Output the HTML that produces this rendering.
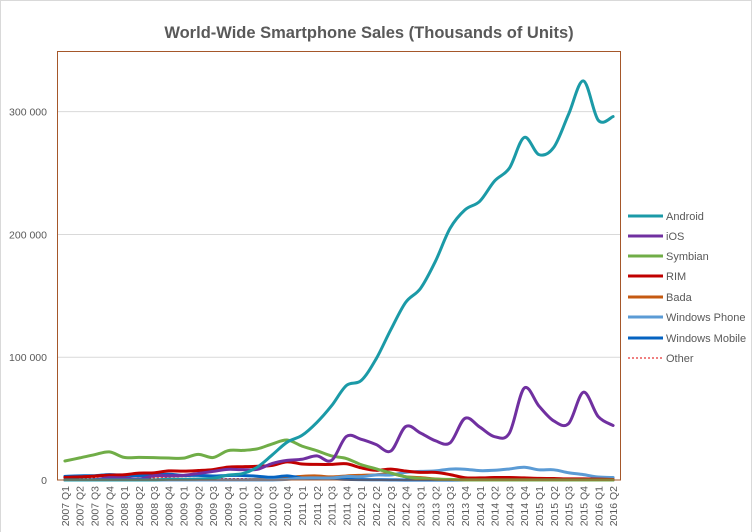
<!DOCTYPE html>
<html><head><meta charset="utf-8"><style>
html,body{margin:0;padding:0;background:#fff;}
svg{display:block;font-family:"Liberation Sans",sans-serif;}
</style></head><body>
<svg id="chart" width="753" height="532" viewBox="0 0 753 532">
<rect x="0.5" y="0.5" width="751" height="540" fill="#fff" stroke="#d9d9d9"/>
<text x="369" y="38" text-anchor="middle" font-size="16.5" font-weight="bold" fill="#595959">World-Wide Smartphone Sales (Thousands of Units)</text>
<g id="grid"></g>
<g id="series"></g>
<rect x="57.5" y="51.5" width="563" height="428.5" fill="none" stroke="#a5572a" stroke-width="1"/>
<g id="xlabels"></g>
<g id="legend"></g>
</svg>
<script>
const categories=[];
for(let y=2007;y<=2016;y++)for(let q=1;q<=4;q++){if(y===2016&&q>2)break;categories.push(y+" Q"+q);}
const seriesNames=["Android","iOS","Symbian","RIM","Bada","Windows Phone","Windows Mobile","Other"];
const seriesColors=["#1b9aa7","#7030a0","#70ad47","#c00000","#c55a11","#5b9bd5","#0563c1","#e00000"];
const android=[0,0,0,0,0,0,0,0.6,0.6,0.8,1.4,4,5.2,10.6,20.5,30.8,36.3,46.8,60.5,77,81,98.5,122.5,144.7,156,177.9,205,220,227,243.5,254,279,265,271,298,325,293,296];
const ios=[0,0,0.3,1.9,1.7,0.7,3.5,3.5,3.8,5.3,7.0,8.7,8.4,8.7,13.5,16,16.9,19.6,16,35.5,33.1,28.9,23.6,43.5,38.3,32,30.3,50.2,43.1,35.3,38.2,74.8,60.2,48.1,46,71.5,51.6,44.4];
const symbian=[15.5,18,20.6,22.9,18.4,18.4,18.2,17.9,17.8,20.9,18.3,23.9,24.1,25.4,29.4,32.6,27.6,23.9,19.6,17.5,12.5,9.1,5.7,2.6,1.3,0.6,0.5,0,0,0,0,0,0,0,0,0,0,0];
const rim=[2.1,2.5,3.2,4.0,4.3,5.6,5.8,7.4,7.2,7.7,8.5,10.5,10.8,11.2,11.9,14.8,13,12.7,12.7,13.2,9.9,7.9,8.9,7.3,6.2,6.2,4.4,1.8,1.7,2.0,2.0,1.7,1.3,1.2,0.9,0.9,0.7,0.4];
const bada=[0,0,0,0,0,0,0,0,0,0,0,0,0,0.6,1,2,3.0,3.3,2.5,3.3,3.8,4.2,5.1,2.7,1.9,0.8,0.3,0.2,0,0,0,0,0,0,0,0,0,0];
const winPhone=[0,0,0,0,0,0,0,0,0,0,0,0,0,0,0,0.5,1.6,1.7,1.7,2.8,2.7,4.1,4.1,6.2,7.0,7.4,8.9,8.8,7.6,7.9,9.0,10.4,8.3,8.3,5.9,4.4,2.4,2.0];
const winMobile=[3.0,3.4,3.5,4.4,3.9,3.5,4.1,4.7,3.7,3.8,3.3,3.7,3.7,3.1,2.2,3.4,1.6,1.0,1.0,0.5,0.3,0.2,0.1,0,0,0,0,0,0,0,0,0,0,0,0,0,0,0];
const other=[1.5,1.5,1.6,1.7,1.6,1.6,1.7,1.8,1.5,1.4,1.3,1.2,1.2,1.1,1.0,1.0,1.0,0.9,0.9,0.9,0.8,0.8,0.8,0.7,0.7,0.7,0.7,0.7,0.6,0.6,0.6,0.6,0.6,0.6,0.6,0.6,0.6,0.6];
const yTicks=[0,100000,200000,300000];
const yTickLabels=["0","100 000","200 000","300 000"];

const NS="http://www.w3.org/2000/svg";
const L=57.5,R=620.5,T=51.5,B=480,YMAX=349;
const xs=i=>L+(i+0.5)*(R-L)/categories.length;
const ys=v=>B-(v/YMAX)*(B-T);
function mk(tag,attrs,parent){const e=document.createElementNS(NS,tag);for(const k in attrs)e.setAttribute(k,attrs[k]);parent.appendChild(e);return e;}
const grid=document.getElementById('grid');
yTicks.forEach((t,i)=>{
  const y=ys(t/1000);
  if(t>0){const g=mk('line',{x1:L,x2:R,y1:y,y2:y,stroke:'#d9d9d9','stroke-width':1},grid);
  
  }
  const tx=mk('text',{x:47,y:y+4,'text-anchor':'end','font-size':10.5,fill:'#595959'},grid);
  tx.textContent=yTickLabels[i];
  
  
});
const xl=document.getElementById('xlabels');
categories.forEach((c,i)=>{
  const x=xs(i)+4;
  const t=mk('text',{x:x,y:486,transform:`rotate(-90 ${x} 486)`,'text-anchor':'end','font-size':10.5,fill:'#595959'},xl);
  t.textContent=c;
  
  
});
function smooth(vals){
  const p=vals.map((v,i)=>[xs(i),ys(v)]);
  let d=`M${p[0][0]},${p[0][1]}`;
  for(let i=0;i<p.length-1;i++){
    const p0=p[i-1]||p[i],p1=p[i],p2=p[i+1],p3=p[i+2]||p2;
    const c1=[p1[0]+(p2[0]-p0[0])/6,p1[1]+(p2[1]-p0[1])/6];
    const c2=[p2[0]-(p3[0]-p1[0])/6,p2[1]-(p3[1]-p1[1])/6];
    d+=` C${c1[0]},${c1[1]} ${c2[0]},${c2[1]} ${p2[0]},${p2[1]}`;
  }
  return d;
}
const allSeries=[android,ios,symbian,rim,bada,winPhone,winMobile,other];
const sg=document.getElementById('series');
const order=[7,4,6,5,3,2,1,0];
order.forEach(k=>{
  const isOther=k===7;
  const p=mk('path',{d:smooth(allSeries[k]),fill:'none',stroke:seriesColors[k],'stroke-width':isOther?1:3,'stroke-linejoin':'round','stroke-linecap':'round'},sg);
  if(isOther)p.setAttribute('stroke-dasharray','2,2');
  
  
});
const lg=document.getElementById('legend');
const legY=[216,236,256,276,297,317,338,358];
seriesNames.forEach((n,i)=>{
  const g=mk('g',{},lg);
  
  
  const ln=mk('line',{x1:628,x2:663,y1:legY[i],y2:legY[i],stroke:seriesColors[i],'stroke-width':i===7?1:3},g);
  if(i===7)ln.setAttribute('stroke-dasharray','2,2');
  const t=mk('text',{x:666,y:legY[i]+4,'font-size':11,fill:'#595959'},g);
  t.textContent=n;
});
</script>
</body></html>
